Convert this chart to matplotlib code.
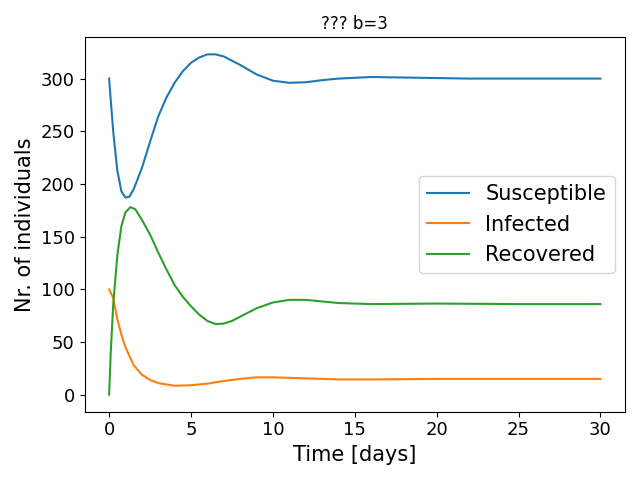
import matplotlib
matplotlib.use("Agg")
import matplotlib.pyplot as plt

t_s = [0, 0.25, 0.5, 0.75, 1, 1.25, 1.5, 2, 2.5, 3, 3.5, 4, 4.5, 5, 5.5, 6, 6.5, 7, 8, 9, 10, 11, 12, 13, 14, 16, 18, 20, 22, 25, 30]
susceptible = [300, 250, 213, 193, 187, 188, 195, 215, 240, 264, 282, 296, 307, 315, 320, 323, 323, 321, 313, 304, 298, 296, 296.5, 298.5, 300, 301.5, 301, 300.5, 300, 300, 300]

t_i = [0, 0.25, 0.5, 0.75, 1, 1.5, 2, 2.5, 3, 4, 5, 6, 7, 8, 9, 10, 11, 12, 14, 16, 20, 25, 30]
infected = [100, 92, 72, 57, 45, 28, 19, 14, 11, 8.5, 9, 10.5, 13, 15, 16.5, 16.5, 16, 15.5, 14.5, 14.5, 15, 15, 15]

t_r = [0, 0.1, 0.25, 0.5, 0.75, 1, 1.3, 1.6, 2, 2.5, 3, 3.5, 4, 4.5, 5, 5.5, 6, 6.5, 7, 7.5, 8, 9, 10, 11, 12, 13, 14, 16, 20, 25, 30]
recovered = [0, 40, 85, 132, 160, 173, 178, 176, 166, 152, 135, 119, 104, 93, 84, 76, 70, 67, 67.5, 70, 74, 82, 87.5, 90, 90, 88.5, 87, 86, 86.5, 86, 86]

fig, ax = plt.subplots(figsize=(6.4, 4.8), dpi=100)
ax.plot(t_s, susceptible, label="Susceptible")
ax.plot(t_i, infected, label="Infected")
ax.plot(t_r, recovered, label="Recovered")
ax.set_title("??? b=3")
ax.set_xlabel("Time [days]", fontsize=15)
ax.set_ylabel("Nr. of individuals", fontsize=15)
ax.tick_params(labelsize=13)
ax.legend(fontsize=15)
fig.tight_layout()
fig.savefig("out.png")
